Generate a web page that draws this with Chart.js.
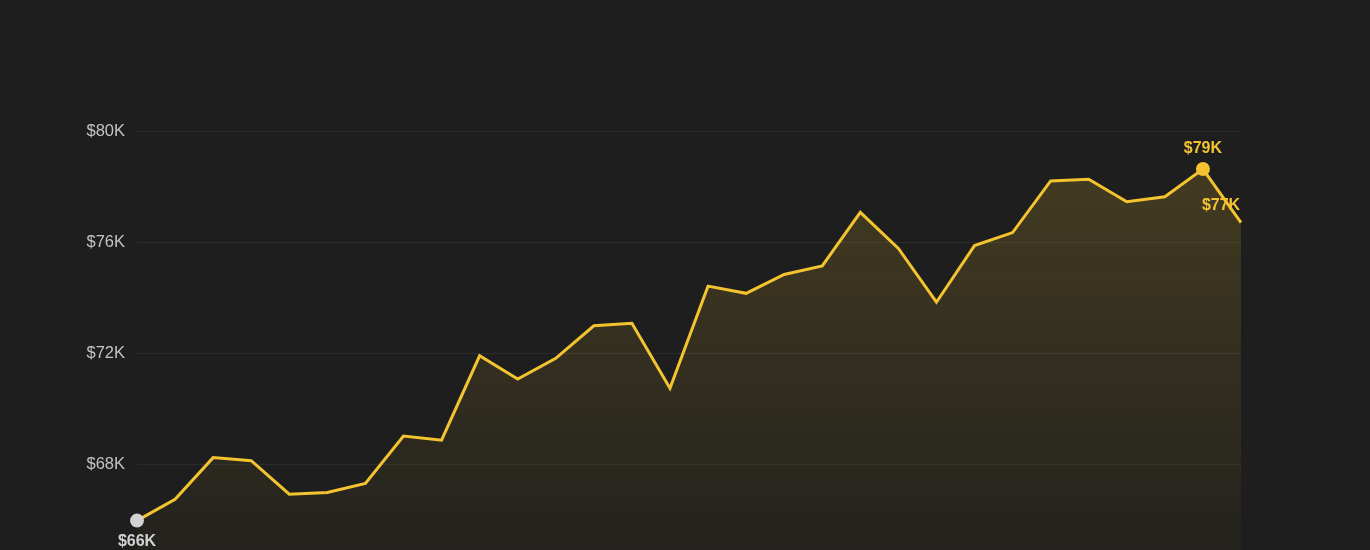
<!DOCTYPE html>
<html>
<head>
<meta charset="utf-8">
<script src="https://cdn.jsdelivr.net/npm/chart.js@4.4.1/dist/chart.umd.min.js"></script>
<style>
  html, body { margin: 0; padding: 0; background: #1e1e1e; overflow: hidden; }
  #wrap { width: 1370px; height: 600px; }
</style>
</head>
<body>
<div id="wrap"><canvas id="priceChart" width="1370" height="600"></canvas></div>
<script>
// daily closing price, in thousands of dollars
const days = ['1', '2', '3', '4', '5', '6', '7', '8', '9', '10',
              '11', '12', '13', '14', '15', '16', '17', '18', '19', '20',
              '21', '22', '23', '24', '25', '26', '27', '28', '29', '30'];
const prices = [65.96, 66.73, 68.23, 68.12, 66.91, 66.97, 67.30, 69.01, 68.86, 71.90,
                71.06, 71.81, 72.98, 73.07, 70.73, 74.41, 74.15, 74.83, 75.14, 77.07,
                75.77, 73.83, 75.87, 76.34, 78.20, 78.26, 77.45, 77.63, 78.63, 76.70];
const yTicks = [64, 68, 72, 76, 80];

const gold = '#f4c430';
const grey = '#d2d2d2';

const minIdx = prices.indexOf(Math.min(...prices));
const maxIdx = prices.indexOf(Math.max(...prices));
const lastIdx = prices.length - 1;

function money(v) { return '$' + Math.round(v) + 'K'; }

// labels for first/low, high and last point
const pointLabels = {
    id: 'pointLabels',
    afterDatasetsDraw(chart) {
        const ctx = chart.ctx;
        const pts = chart.getDatasetMeta(0).data;
        ctx.save();
        ctx.font = 'bold 16px "Liberation Sans", Arial, sans-serif';
        ctx.textAlign = 'center';
        ctx.textBaseline = 'middle';

        let p = pts[maxIdx];
        ctx.fillStyle = gold;
        ctx.fillText(money(prices[maxIdx]), p.x, p.y - 20);

        p = pts[lastIdx];
        ctx.fillText(money(prices[lastIdx]), p.x - 20, p.y - 17);

        p = pts[minIdx];
        ctx.fillStyle = grey;
        ctx.fillText(money(prices[minIdx]), p.x, p.y + 21);
        ctx.restore();
    }
};

const ctx = document.getElementById('priceChart');
new Chart(ctx, {
    type: 'line',
    data: {
        labels: days,
        datasets: [{
            data: prices,
            borderColor: gold,
            borderWidth: 3,
            tension: 0,
            fill: 'start',
            backgroundColor: function (c) {
                const area = c.chart.chartArea;
                if (!area) return 'rgba(244,196,48,0.12)';
                const g = c.chart.ctx.createLinearGradient(0, area.top, 0, area.bottom);
                g.addColorStop(0, 'rgba(244,196,48,0.19)');
                g.addColorStop(1, 'rgba(244,196,48,0.02)');
                return g;
            },
            pointRadius: prices.map((v, i) => (i === minIdx || i === maxIdx) ? 7 : 0),
            pointBackgroundColor: prices.map((v, i) => i === minIdx ? grey : gold),
            pointBorderWidth: 0,
            pointHoverRadius: 0
        }]
    },
    options: {
        responsive: false,
        animation: false,
        layout: { padding: { top: 131, right: 129, bottom: 25, left: 0 } },
        plugins: {
            legend: { display: false },
            tooltip: { enabled: false }
        },
        scales: {
            x: { display: false, offset: false },
            y: {
                min: 64,
                max: 80,
                afterFit: function (axis) { axis.width = 137; },
                afterBuildTicks: function (axis) {
                    axis.ticks = yTicks.map(v => ({ value: v }));
                },
                border: { display: false },
                grid: { color: '#2b2b2b', lineWidth: 1, drawTicks: false },
                ticks: {
                    padding: 12,
                    color: '#c4c4c4',
                    font: { family: '"Liberation Sans", Arial, sans-serif', size: 16.5 },
                    callback: v => '$' + v + 'K'
                }
            }
        }
    },
    plugins: [pointLabels]
});
</script>
</body>
</html>
